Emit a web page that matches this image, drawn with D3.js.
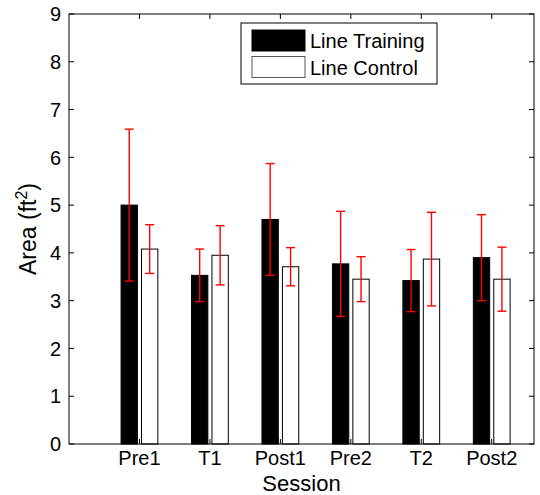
<!DOCTYPE html>
<html>
<head>
<meta charset="utf-8">
<script src="https://cdn.jsdelivr.net/npm/d3@7"></script>
<style>
  body { margin: 0; background: #fff; }
  svg { display: block; font-family: "Liberation Sans", Arial, sans-serif; }
</style>
</head>
<body>
<div id="chart"></div>
<script>
// Chart data
const sessions = ['Pre1', 'T1', 'Post1', 'Pre2', 'T2', 'Post2'];
const seriesNames = ['Line Training', 'Line Control'];
const trainMeans = [5.0, 3.53, 4.70, 3.77, 3.42, 3.90];
const trainErr = [1.59, 0.55, 1.17, 1.1, 0.65, 0.9];
const controlMeans = [4.08, 3.95, 3.71, 3.45, 3.87, 3.45];
const controlErr = [0.51, 0.62, 0.40, 0.47, 0.98, 0.67];
const yTicks = [0, 1, 2, 3, 4, 5, 6, 7, 8, 9];

const width = 540, height = 495;
const plot = { left: 69, right: 534, top: 14, bottom: 444 };
const tickLen = 5;

const svg = d3.select('#chart').append('svg')
    .attr('width', width)
    .attr('height', height);

// Scales: sessions sit at 1..6 on a linear axis, like the original figure
const x = d3.scaleLinear().domain([0, 6.6]).range([plot.left, plot.right]);
const y = d3.scaleLinear().domain([0, 9]).range([plot.bottom, plot.top]);
const step = x(1) - x(0);
const inner = d3.scaleBand()
    .domain(seriesNames)
    .range([-0.261 * step, 0.261 * step])
    .paddingInner(0.2);

const rows = sessions.flatMap((s, i) => [
    { session: s, pos: i + 1, series: seriesNames[0], value: trainMeans[i], err: trainErr[i] },
    { session: s, pos: i + 1, series: seriesNames[1], value: controlMeans[i], err: controlErr[i] }
]);

// ===== Bars =====
svg.append('g').selectAll('rect')
    .data(rows)
    .join('rect')
    .attr('x', d => x(d.pos) + inner(d.series))
    .attr('y', d => y(d.value))
    .attr('width', inner.bandwidth())
    .attr('height', d => y(0) - y(d.value))
    .attr('fill', d => d.series === seriesNames[0] ? '#000' : '#fff')
    .attr('stroke', '#000')
    .attr('stroke-width', 1);

// ===== Error bars =====
const capHalf = 4.5;
const errG = svg.append('g')
    .attr('stroke', '#ff0000')
    .attr('stroke-width', 1.4)
    .attr('fill', 'none');

const eb = errG.selectAll('g')
    .data(rows)
    .join('g')
    .attr('transform', d => `translate(${x(d.pos) + inner(d.series) + inner.bandwidth() / 2},0)`);

eb.append('line')
    .attr('y1', d => y(d.value + d.err))
    .attr('y2', d => y(d.value - d.err));
eb.append('line')
    .attr('x1', -capHalf).attr('x2', capHalf)
    .attr('y1', d => y(d.value + d.err))
    .attr('y2', d => y(d.value + d.err));
eb.append('line')
    .attr('x1', -capHalf).attr('x2', capHalf)
    .attr('y1', d => y(d.value - d.err))
    .attr('y2', d => y(d.value - d.err));

// ===== Axes (box with inward ticks on all sides) =====
const axisG = svg.append('g').attr('stroke', '#000').attr('stroke-width', 1);

axisG.append('rect')
    .attr('x', plot.left)
    .attr('y', plot.top)
    .attr('width', plot.right - plot.left)
    .attr('height', plot.bottom - plot.top)
    .attr('fill', 'none');

yTicks.forEach(t => {
    axisG.append('line')
        .attr('x1', plot.left).attr('x2', plot.left + tickLen)
        .attr('y1', y(t)).attr('y2', y(t));
    axisG.append('line')
        .attr('x1', plot.right).attr('x2', plot.right - tickLen)
        .attr('y1', y(t)).attr('y2', y(t));
});

sessions.forEach((s, i) => {
    axisG.append('line')
        .attr('x1', x(i + 1)).attr('x2', x(i + 1))
        .attr('y1', plot.bottom).attr('y2', plot.bottom - tickLen);
    axisG.append('line')
        .attr('x1', x(i + 1)).attr('x2', x(i + 1))
        .attr('y1', plot.top).attr('y2', plot.top + tickLen);
});

// Tick labels
svg.append('g').selectAll('text')
    .data(yTicks)
    .join('text')
    .attr('x', plot.left - 8)
    .attr('y', d => y(d))
    .attr('dy', '0.36em')
    .attr('text-anchor', 'end')
    .attr('font-size', 20)
    .text(d => d);

svg.append('g').selectAll('text')
    .data(sessions)
    .join('text')
    .attr('x', (d, i) => x(i + 1))
    .attr('y', 465)
    .attr('text-anchor', 'middle')
    .attr('font-size', 20)
    .text(d => d);

// Axis titles
svg.append('text')
    .attr('x', (plot.left + plot.right) / 2)
    .attr('y', 491)
    .attr('text-anchor', 'middle')
    .attr('font-size', 22)
    .text('Session');

const yLabel = svg.append('text')
    .attr('transform', `translate(36,${(plot.top + plot.bottom) / 2}) rotate(-90)`)
    .attr('text-anchor', 'middle')
    .attr('font-size', 23);
yLabel.append('tspan').text('Area (ft');
yLabel.append('tspan').attr('font-size', 16).attr('dy', -9).text('2');
yLabel.append('tspan').attr('dy', 9).text(')');

// ===== Legend =====
const legend = svg.append('g').attr('transform', 'translate(241,23)');
legend.append('rect')
    .attr('width', 196)
    .attr('height', 61)
    .attr('fill', '#fff')
    .attr('stroke', '#000');

const legendRows = legend.selectAll('g')
    .data(seriesNames)
    .join('g')
    .attr('transform', (d, i) => `translate(11,${7 + i * 26.5})`);

legendRows.append('rect')
    .attr('width', 53)
    .attr('height', 21)
    .attr('fill', (d, i) => i === 0 ? '#000' : '#fff')
    .attr('stroke', (d, i) => i === 0 ? '#000' : '#555');

legendRows.append('text')
    .attr('x', 58)
    .attr('y', 18)
    .attr('font-size', 20)
    .text(d => d);
</script>
</body>
</html>
